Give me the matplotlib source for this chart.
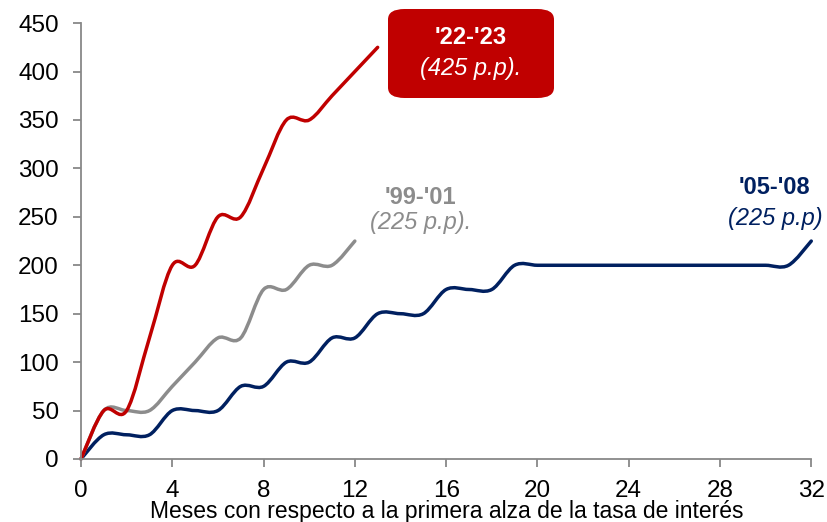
import matplotlib.pyplot as plt
from matplotlib.path import Path
from matplotlib.patches import PathPatch, FancyBboxPatch

plt.rcParams['font.family'] = ['Liberation Sans', 'DejaVu Sans']

# Puntos base acumulados por mes desde la primera alza
meses_22 = list(range(0, 14))
alza_22 = [0, 50, 50, 125, 200, 200, 250, 250, 300, 350, 350, 375, 400, 425]

meses_99 = list(range(0, 13))
alza_99 = [0, 50, 50, 50, 75, 100, 125, 125, 175, 175, 200, 200, 225]

meses_05 = list(range(0, 33))
alza_05 = [0, 25, 25, 25, 50, 50, 50, 75, 75, 100, 100, 125, 125, 150, 150, 150,
           175, 175, 175, 200, 200, 200, 200, 200, 200, 200, 200, 200, 200, 200,
           200, 200, 225]

rojo = '#C00000'
gris = '#8C8C8C'
azul = '#002060'


def smooth_path(x, y):
    # curva suavizada tipo Excel (Catmull-Rom en segmentos Bezier)
    n = len(x)
    verts = [(x[0], y[0])]
    codes = [Path.MOVETO]
    for i in range(n - 1):
        a = i - 1 if i > 0 else i
        d = i + 2 if i + 2 < n else i + 1
        c1 = (x[i] + (x[i + 1] - x[a]) / 6, y[i] + (y[i + 1] - y[a]) / 6)
        c2 = (x[i + 1] - (x[d] - x[i]) / 6, y[i + 1] - (y[d] - y[i]) / 6)
        verts += [c1, c2, (x[i + 1], y[i + 1])]
        codes += [Path.CURVE4] * 3
    return Path(verts, codes)


fig = plt.figure(figsize=(8.28, 5.22), dpi=100)
ax = fig.add_axes([0.0978, 0.1207, 0.882, 0.835])

for x, y, c in [(meses_05, alza_05, azul), (meses_99, alza_99, gris), (meses_22, alza_22, rojo)]:
    ax.add_patch(PathPatch(smooth_path(x, y), facecolor='none', edgecolor=c,
                           lw=2.5, capstyle='round', clip_on=False))

ax.set_xlim(0, 32)
ax.set_ylim(0, 450)
ax.set_xticks(range(0, 33, 4))
ax.set_yticks(range(0, 451, 50))

for s in ['top', 'right']:
    ax.spines[s].set_visible(False)
for s in ['left', 'bottom']:
    ax.spines[s].set_color('#888888')
    ax.spines[s].set_linewidth(1.3)
ax.tick_params(axis='both', colors='#888888', labelcolor='black', labelsize=17.5,
               length=6, width=1.3)
ax.tick_params(axis='x', pad=9)
ax.tick_params(axis='y', pad=10)

fig.text(0.539, 0.021, 'Meses con respecto a la primera alza de la tasa de interés',
         ha='center', va='center', fontsize=16.5)

# etiqueta '22-'23 en caja roja
box = FancyBboxPatch((388 / 828, 1 - 98 / 522), (554 - 388) / 828, (98 - 9) / 522,
                     boxstyle='round,pad=0,rounding_size=0.02', transform=fig.transFigure,
                     facecolor=rojo, edgecolor='none')
fig.patches.append(box)
fig.text(471 / 828, 1 - 38 / 522, "'22-'23", color='white', fontsize=17,
         fontweight='bold', ha='center', va='center')
fig.text(471 / 828, 1 - 69 / 522, '(425 p.p).', color='white', fontsize=17,
         style='italic', ha='center', va='center')

fig.text(420 / 828, 1 - 198 / 522, "'99-'01", color=gris, fontsize=17,
         fontweight='bold', ha='center', va='center')
fig.text(421 / 828, 1 - 223 / 522, '(225 p.p).', color=gris, fontsize=17,
         style='italic', ha='center', va='center')

fig.text(774 / 828, 1 - 188 / 522, "'05-'08", color=azul, fontsize=17,
         fontweight='bold', ha='center', va='center')
fig.text(775 / 828, 1 - 218 / 522, '(225 p.p)', color=azul, fontsize=17,
         style='italic', ha='center', va='center')

fig.savefig('out.png', dpi=100)
